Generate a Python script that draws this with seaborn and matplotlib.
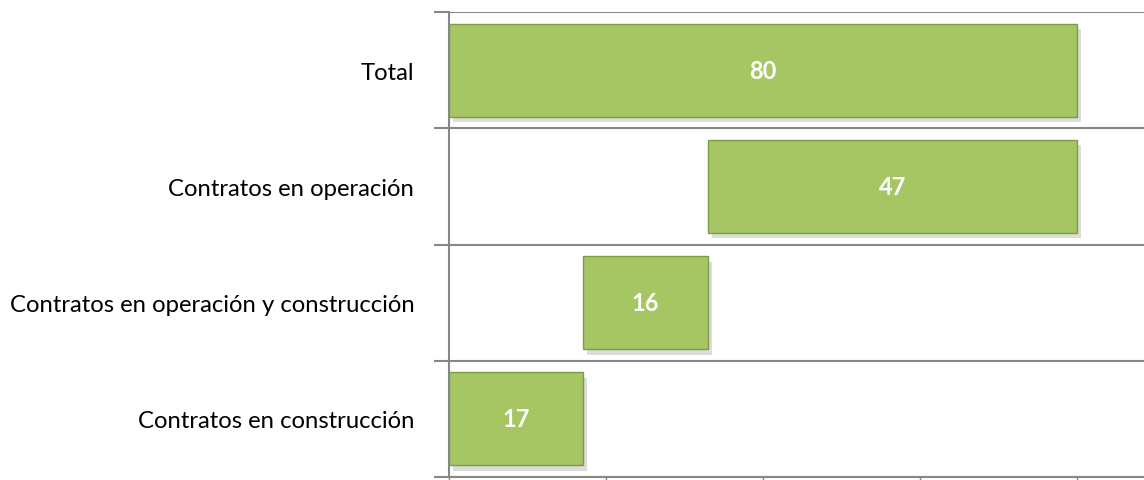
import matplotlib
matplotlib.use('Agg')
import matplotlib.pyplot as plt
import matplotlib.patheffects as pe
import seaborn as sns
import pandas as pd

categorias = ['Total', 'Contratos en operación',
              'Contratos en operación y construcción', 'Contratos en construcción']
valores = [80, 47, 16, 17]
inicios = [0, 33, 17, 0]

df = pd.DataFrame({'Categoria': categorias, 'Valor': valores, 'Inicio': inicios})

sns.set_style('white')
plt.rcParams['font.family'] = ['Lato', 'DejaVu Sans']

fig = plt.figure(figsize=(11.44, 4.81), dpi=100)
ax = fig.add_axes([449 / 1144, 3 / 481, 1 - 449 / 1144, 465 / 481])

sns.barplot(data=df, x='Valor', y='Categoria', orient='h', color='#A5C663',
            width=0.8, saturation=1, edgecolor='#7E9C46', linewidth=1, ax=ax)

# barras flotantes (cascada): desplazar cada barra a su inicio
for patch, ini, val in zip(ax.patches, inicios, valores):
    patch.set_x(ini)
    patch.set_width(val)
    patch.set_path_effects([pe.SimplePatchShadow(offset=(3, -4), alpha=0.25, shadow_rgbFace='#777777'),
                            pe.Normal()])
    y = patch.get_y() + patch.get_height() / 2
    ax.text(ini + val / 2, y, str(val), ha='center', va='center',
            color='white', fontsize=17, fontweight='bold')

ax.set_xlim(0, 88.5)
ax.set_ylim(3.5, -0.5)
ax.set_xticks([0, 20, 40, 60, 80])
ax.set_xticklabels([])
ax.set_yticks([-0.5, 0.5, 1.5, 2.5, 3.5], minor=True)
ax.grid(False)
ax.grid(True, which='minor', axis='y', color='#878787', linewidth=1.5)
ax.tick_params(axis='y', which='major', length=0, pad=25, labelsize=17.2, labelcolor='#000000')
ax.tick_params(axis='y', which='minor', length=11, width=1.5, color='#878787', left=True)
ax.tick_params(axis='x', which='major', length=4, width=1, color='#878787', bottom=True)
ax.set_xlabel('')
ax.set_ylabel('')
for s in ['top', 'right']:
    ax.spines[s].set_visible(False)
for s in ['left', 'bottom']:
    ax.spines[s].set_color('#878787')
    ax.spines[s].set_linewidth(1.5)

fig.savefig('out.png', dpi=100)
